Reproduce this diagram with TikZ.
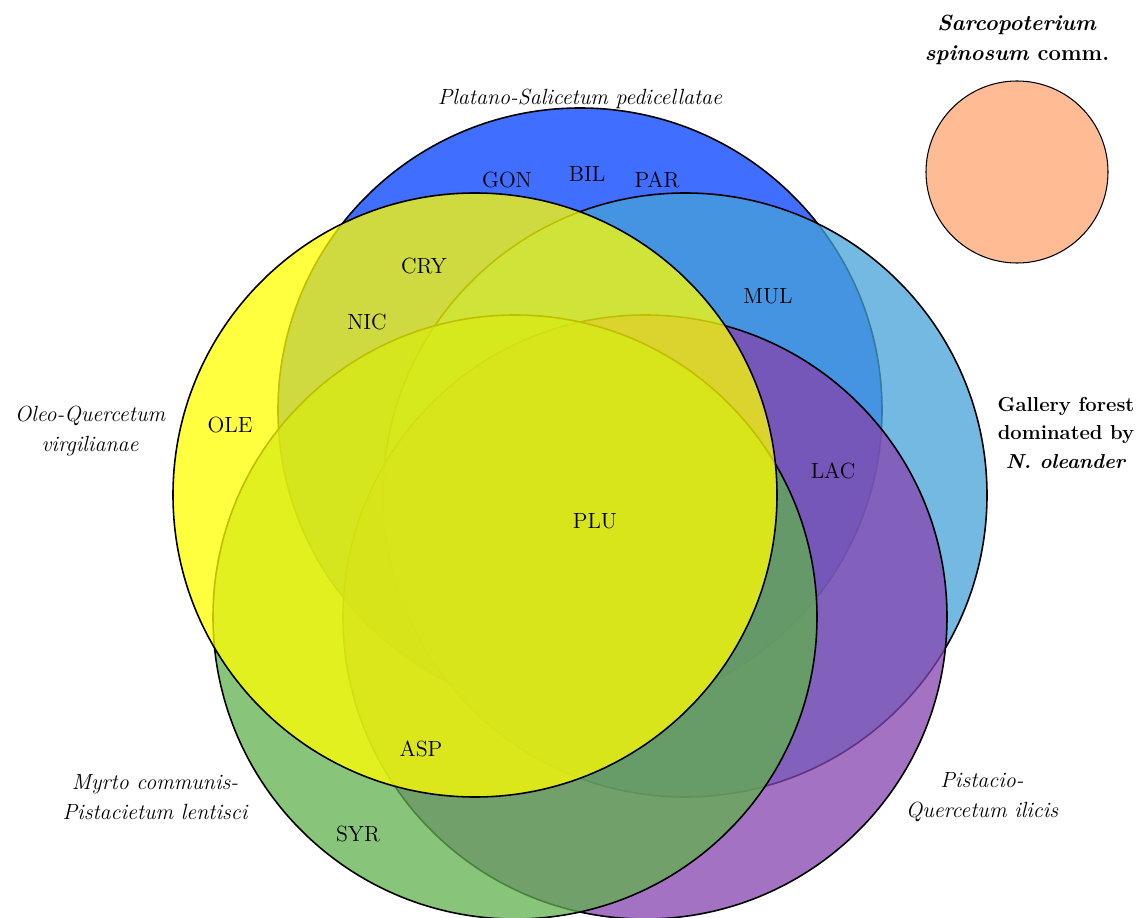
\documentclass[tikz,border=0pt]{standalone}
\usepackage{tikz}

\definecolor{platanoblue}{RGB}{0,61,255}
\definecolor{galleryblue}{RGB}{70,162,215}
\definecolor{pistaciopurple}{RGB}{134,67,174}
\definecolor{myrtogreen}{RGB}{96,176,78}
\definecolor{oleoyellow}{RGB}{255,255,0}
\definecolor{sarcoorange}{RGB}{255,187,148}

\tikzset{
  vennset/.style={circle, draw=black, line width=0.9pt, minimum size=12.08cm,
    inner sep=0pt, fill opacity=0.75},
  species/.style={font=\fontsize{12.5}{15}\selectfont},
  community/.style={font=\fontsize{12.5}{15}\selectfont, align=center}
}

\begin{document}
\begin{tikzpicture}[x=0.2mm,y=-0.2mm]
\useasboundingbox (0,0) rectangle (1137,918);

% the five overlapping communities
\node[vennset, fill=platanoblue] (platano) at (580,410) {};
\node[vennset, fill=galleryblue] (gallery) at (685,495) {};
\node[vennset, fill=pistaciopurple] (pistacio) at (645,617) {};
\node[vennset, fill=myrtogreen] (myrto) at (515,617) {};
\node[vennset, fill=oleoyellow] (oleo) at (475,495) {};

% the isolated one
\node[circle, draw=black, line width=0.6pt, fill=sarcoorange, minimum size=3.64cm, inner sep=0pt] (sarco) at (1017,172) {};

% community names
\node[community] (platanolab) at (580,99) {\itshape Platano-Salicetum pedicellatae};
\node[community] (sarcolab) at (1017,40) {\textbf{\textit{Sarcopoterium}}\\[2pt]\textbf{\textit{spinosum} comm.}};
\node[community, font=\fontsize{11.5}{14}\selectfont] (gallerylab) at (1066,433) {\textbf{Gallery forest}\\[2pt]\textbf{dominated by}\\[2pt]\textbf{\textit{N. oleander}}};
\node[community] (oleolab) at (90,431) {\itshape Oleo-Quercetum\\[2pt]\itshape virgilianae};
\node[community] (myrtolab) at (155,797) {\itshape Myrto communis-\\[2pt]\itshape Pistacietum lentisci};
\node[community] (pistaciolab) at (982,797) {\itshape Pistacio-\\[2pt]\itshape Quercetum ilicis};

% species
\node[species] (gon) at (507,180) {GON};
\node[species] (bil) at (587,174) {BIL};
\node[species] (par) at (657,180) {PAR};
\node[species] (cry) at (424,266) {CRY};
\node[species] (nic) at (367,322) {NIC};
\node[species] (mul) at (768,296) {MUL};
\node[species] (ole) at (230,425) {OLE};
\node[species] (lac) at (833,471) {LAC};
\node[species] (plu) at (595,521) {PLU};
\node[species] (asp) at (421,749) {ASP};
\node[species] (syr) at (358,834) {SYR};
\end{tikzpicture}
\end{document}
